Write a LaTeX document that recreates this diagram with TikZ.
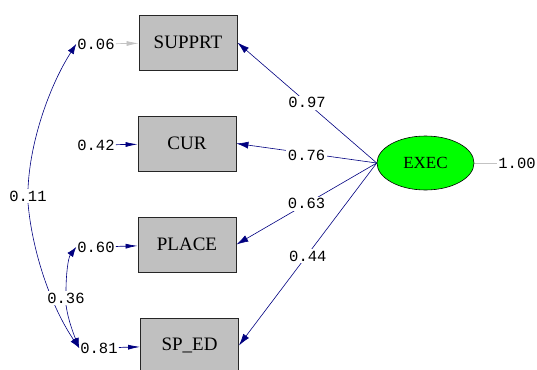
\documentclass[tikz,border=0pt]{standalone}
\usepackage{fontspec}
\setmainfont{Liberation Serif}
\newfontfamily\numfont{Liberation Mono}
\usetikzlibrary{arrows.meta,backgrounds,calc,shapes.geometric}
\definecolor{navy}{RGB}{0,0,128}
\definecolor{boxgray}{RGB}{192,192,192}
\definecolor{errgray}{RGB}{195,195,195}
\definecolor{latgreen}{RGB}{0,255,0}
\begin{document}
\begin{tikzpicture}[x=1pt,y=-1pt,
  obs/.style={draw=black!85, fill=boxgray, minimum width=98pt, minimum height=55pt, inner sep=0pt, font=\fontsize{19}{19}\selectfont, line width=0.8pt},
  lat/.style={ellipse, draw=black, fill=latgreen, minimum width=97pt, minimum height=54pt, inner sep=0pt, font=\fontsize{17}{17}\selectfont, line width=0.6pt},
  num/.style={font=\numfont\fontsize{15.5}{15.5}\selectfont, inner sep=1pt},
  lbl/.style={num, fill=white, inner sep=1.5pt},
  pathar/.style={draw=navy, line width=0.6pt, -{Latex[length=12pt,width=7pt]}},
  errarr/.style={draw=navy, line width=0.7pt, -{Latex[length=12pt,width=5pt]}},
  cov/.style={draw=navy, line width=0.6pt, -{Latex[length=10pt,width=7pt]}}
]
\useasboundingbox (0,0) rectangle (537,369);
\node[obs] (s1) at (188,42.5) {SUPPRT};
\node[obs] (s2) at (187,143.5) {CUR};
\node[obs] (s3) at (187,244.5) {PLACE};
\node[obs] (s4) at (189.5,345.5) {SP\_ED};
\node[lat] (ex) at (425.5,163) {EXEC};
\node[num] (e1) at (96,44) {0.06};
\node[num] (e2) at (96,145) {0.42};
\node[num] (e3) at (96,247) {0.60};
\node[num] (e4) at (99,348) {0.81};
\node[num] (v) at (517,163) {1.00};
\node[lbl] (p1) at ($(ex.west)!0.5!(s1.east)$) {0.97};
\node[lbl] (p2) at ($(ex.west)!0.5!(s2.east)+(0,2)$) {0.76};
\node[lbl] (p3) at ($(ex.west)!0.5!(s3.east)$) {0.63};
\node[lbl] (p4) at ($(ex.west)!0.5!(s4.east)+(0,2)$) {0.44};
\node[lbl] (c11) at (28,196) {0.11};
\node[lbl] (c36) at (66,298) {0.36};
\begin{scope}[on background layer]
\draw[pathar] (ex.west) -- (s1.east);
\draw[pathar] (ex.west) -- (s2.east);
\draw[pathar] (ex.west) -- (s3.east);
\draw[pathar] (ex.west) -- (s4.east);
\draw[errarr, draw=errgray] (e1) -- (s1);
\draw[errarr] (e2) -- (s2);
\draw[errarr] (e3) -- (s3);
\draw[errarr] (e4) -- (s4);
\draw[cov] (c11.north) .. controls (30,140) and (50,85) .. (e1.west);
\draw[cov] (c11.south) .. controls (32,250) and (50,305) .. (e4.west);
\draw[cov] (c36.north) .. controls (66,275) and (68,258) .. (e3.west);
\draw[cov] (c36.south) .. controls (68,320) and (74,335) .. (e4.west);
\draw[draw=errgray, line width=0.6pt] (ex.east) -- (v.west);
\end{scope}
\end{tikzpicture}
\end{document}
